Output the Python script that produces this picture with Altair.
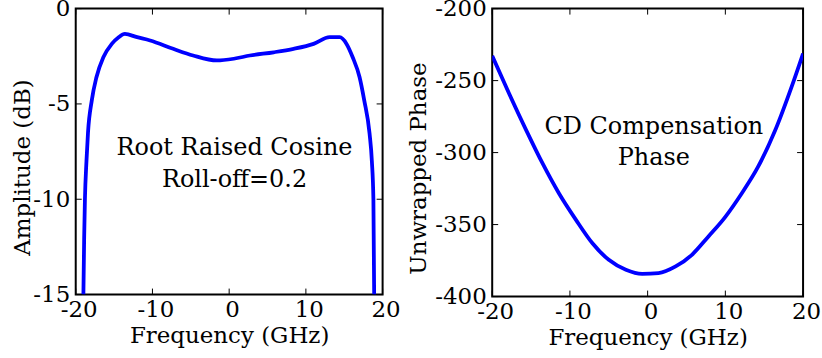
import altair as alt
import pandas as pd

# ---- data ----
amp_freq = [-19.0, -18.9, -18.8, -18.6, -18.4, -17.9, -17.3, -16.4, -15.3, -14.4, -13.6,
            -12.0, -10.3, -7.3, -4.7, -1.6, 0.6, 2.7, 5.8, 8.4, 11.0, 13.1, 14.4,
            15.3, 16.1, 17.0, 17.6, 18.3, 18.6, 18.8, 18.9]
amp_db = [-15.0, -12.0, -10.0, -8.0, -6.5, -4.8, -3.6, -2.55, -1.85, -1.5, -1.33,
          -1.5, -1.67, -2.11, -2.46, -2.72, -2.63, -2.46, -2.29, -2.11, -1.85, -1.5, -1.5,
          -1.85, -2.55, -3.6, -4.8, -6.55, -8.0, -10.0, -15.0]

phase_freq = [-20.0, -17.8, -15.6, -13.5, -11.4, -9.2, -7.1, -5.0, -2.8, -0.7, 1.4,
              3.6, 5.7, 7.8, 10.0, 12.1, 14.2, 16.4, 18.5, 20.0]
phase_val = [-232.8, -259.3, -284.7, -307.7, -328.4, -346.9, -363.0, -374.5, -381.4, -384.2,
             -383.7, -379.1, -371.0, -358.4, -344.6, -328.4, -310.0, -284.7, -254.7, -231.2]

x_ticks = [-20, -10, 0, 10, 20]
amp_ticks = [-15, -10, -5, 0]
phase_ticks = [-400, -350, -300, -250, -200]

FONT = "DejaVu Serif"
FS = 23
BLUE = "#0000ff"


def panel(freq, vals, ydom, yticks, ytitle, w, h, title_x, title_y, lines, ann_x, ann_y):
    df = pd.DataFrame({"f": freq, "v": vals})
    xs = alt.Scale(domain=[-20, 20], nice=False, zero=False)
    ys = alt.Scale(domain=ydom, nice=False, zero=False)
    common = dict(ticks=False, domain=False, grid=False, labelFont=FONT, titleFont=FONT,
                  labelFontSize=FS, titleFontSize=FS, labelColor="black", titleColor="black",
                  titleFontWeight="normal", labelFlush=False, labelExpr="'' + datum.value")
    xaxis = alt.Axis(values=x_ticks, title="Frequency (GHz)", labelPadding=4, titlePadding=3,
                     labelOffset=3, **common)
    yaxis = alt.Axis(values=yticks, title=ytitle, labelPadding=6, titleX=title_x,
                     titleY=title_y, titleAngle=-90, titleAlign="center",
                     titleBaseline="middle", **common)
    line = alt.Chart(df).mark_line(color=BLUE, strokeWidth=3.8, clip=True,
                                   interpolate="monotone").encode(
        x=alt.X("f:Q", scale=xs, axis=xaxis),
        y=alt.Y("v:Q", scale=ys, axis=yaxis),
    )
    txt = []
    for i, s in enumerate(lines):
        txt.append(alt.Chart(df).mark_text(font=FONT, fontSize=24, color="black",
                                           align="center", baseline="middle").encode(
            x=alt.X(datum=ann_x[i], scale=xs, axis=xaxis),
            y=alt.Y(datum=ann_y[i], scale=ys, axis=yaxis),
            text=alt.value(s),
        ).transform_filter("datum.f == " + str(freq[0])))
    xt = pd.DataFrame({"t": x_ticks})
    yt = pd.DataFrame({"t": yticks})
    tl = 6
    ticks = [
        alt.Chart(xt).mark_rule(color="black", strokeWidth=1).encode(
            x=alt.X("t:Q", scale=xs, axis=xaxis), y=alt.value(h), y2=alt.value(h - tl)),
        alt.Chart(xt).mark_rule(color="black", strokeWidth=1).encode(
            x=alt.X("t:Q", scale=xs, axis=xaxis), y=alt.value(0), y2=alt.value(tl)),
        alt.Chart(yt).mark_rule(color="black", strokeWidth=1).encode(
            y=alt.Y("t:Q", scale=ys, axis=yaxis), x=alt.value(0), x2=alt.value(tl)),
        alt.Chart(yt).mark_rule(color="black", strokeWidth=1).encode(
            y=alt.Y("t:Q", scale=ys, axis=yaxis), x=alt.value(w), x2=alt.value(w - tl)),
    ]
    return alt.layer(line, *ticks, *txt).properties(width=w, height=h)


left = panel(amp_freq, amp_db, [-15, 0], amp_ticks, "Amplitude (dB)", 308, 287, -53, 159,
             ["Root Raised Cosine", "Roll-off=0.2"], [0.7, 0.7], [-7.3, -9.0])
right = panel(phase_freq, phase_val, [-400, -200], phase_ticks, "Unwrapped Phase", 312, 289, -74,
              160, ["CD Compensation", "Phase"], [0.8, 0.8], [-282.2, -304.0])

chart = alt.hconcat(left, right, spacing=110, bounds="flush").properties(
    padding={"left": 11, "top": -4, "right": 0, "bottom": 0}
).configure_view(stroke="black", strokeWidth=2)

chart.save("out.html", embed_options={"renderer": "svg", "actions": False})
